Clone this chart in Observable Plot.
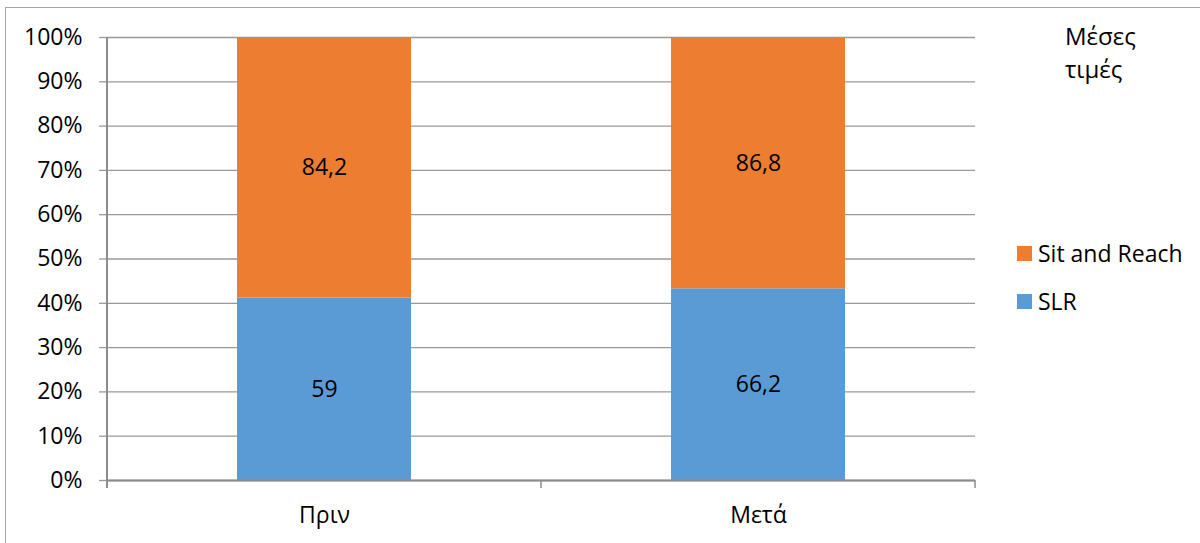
<!DOCTYPE html>
<html>
<head>
<meta charset="utf-8">
<script src="https://cdn.jsdelivr.net/npm/d3@7"></script>
<script src="https://cdn.jsdelivr.net/npm/@observablehq/plot@0.6"></script>
<style>
  body { margin: 0; background: #fff; font-family: "Open Sans", sans-serif; color: #000; }
  #wrap { position: relative; width: 1200px; height: 543px; overflow: hidden; }
  #wrap svg { position: absolute; left: 0; top: 0; }
  #border { position: absolute; left: 5px; top: 7px; width: 1400px; height: 800px;
            border-top: 1.5px solid #a6a6a6; border-left: 1.5px solid #a6a6a6; }
  #legend-title { position: absolute; left: 1065px; top: 19px; font-size: 24px; line-height: 33px; }
  #legend { position: absolute; left: 1017px; top: 229px; font-size: 23px; }
  .item { display: flex; align-items: center; height: 48px; }
  .swatch { width: 15px; height: 15px; margin-right: 6px; }
</style>
</head>
<body>
<div id="wrap"><div id="border"></div></div>
<script>
// Mean values before (Πριν) and after (Μετά)
const periods = ["Πριν", "Μετά"];
const series = ["SLR", "Sit and Reach"];
const slrValues = [59, 66.2];
const sitReachValues = [84.2, 86.8];
const seriesColors = ["#5B9BD5", "#ED7D31"];
const yTicks = [0, 0.1, 0.2, 0.3, 0.4, 0.5, 0.6, 0.7, 0.8, 0.9, 1];
const legendTitle = ["Μέσες", "τιμές"];

// Long table: SLR rows first so they stack at the bottom
const rows = [];
periods.forEach((p, i) => rows.push({period: p, series: series[0], value: slrValues[i]}));
periods.forEach((p, i) => rows.push({period: p, series: series[1], value: sitReachValues[i]}));

const fmt = v => String(v).replace(".", ",");
const FS = 23;

const plot = Plot.plot({
  width: 1200,
  height: 543,
  marginLeft: 107,
  marginRight: 225,
  marginTop: 37,
  marginBottom: 63,
  style: {fontFamily: "Open Sans, sans-serif", fontSize: FS + "px", color: "#000", background: "transparent", overflow: "visible"},
  x: {domain: periods, paddingInner: 0.6, paddingOuter: 0.3, label: null},
  y: {domain: [0, 1], label: null},
  color: {domain: series, range: seriesColors},
  marks: [
    Plot.gridY(yTicks, {stroke: "#999", strokeOpacity: 1, strokeWidth: 1.3}),
    Plot.barY(rows, {x: "period", y: "value", fill: "series", offset: "normalize"}),
    Plot.text(rows, Plot.stackY({
      x: "period", y: "value", z: "series", offset: "normalize",
      text: d => fmt(d.value), fill: "#000", fontSize: FS
    })),
    Plot.ruleY([0], {stroke: "#8c8c8c", strokeWidth: 2}),
    Plot.axisY(yTicks, {
      tickSize: 8, tickPadding: 17, stroke: "#999", strokeWidth: 1.3,
      tickFormat: d => `${Math.round(d * 100)}%`, label: null, fontSize: FS
    }),
    Plot.axisX({tickSize: 0, tickPadding: 26, label: null, fontSize: FS})
  ]
});

// Category-boundary ticks and the left axis line, placed from the x and y scales
const xs = plot.scale("x"), ys = plot.scale("y");
const [r0, r1] = xs.range;
const y0 = ys.range[0], y1 = ys.range[1];
const g = d3.select(plot).append("g").attr("stroke", "#8c8c8c");
g.append("line").attr("x1", r0).attr("x2", r0).attr("y1", y1).attr("y2", y0 + 8).attr("stroke-width", 2);
d3.range(periods.length + 1).forEach(i => {
  const x = r0 + i * (r1 - r0) / periods.length;
  g.append("line").attr("x1", x).attr("x2", x).attr("y1", y0).attr("y2", y0 + 8).attr("stroke-width", 1.5);
});

const wrap = document.getElementById("wrap");
wrap.appendChild(plot);

// Legend on the right
const title = d3.select(wrap).append("div").attr("id", "legend-title");
legendTitle.forEach(t => title.append("div").text(t));
const legend = d3.select(wrap).append("div").attr("id", "legend");
series.slice().reverse().forEach(s => {
  const item = legend.append("div").attr("class", "item");
  item.append("div").attr("class", "swatch").style("background", seriesColors[series.indexOf(s)]);
  item.append("span").text(s);
});
</script>
</body>
</html>
